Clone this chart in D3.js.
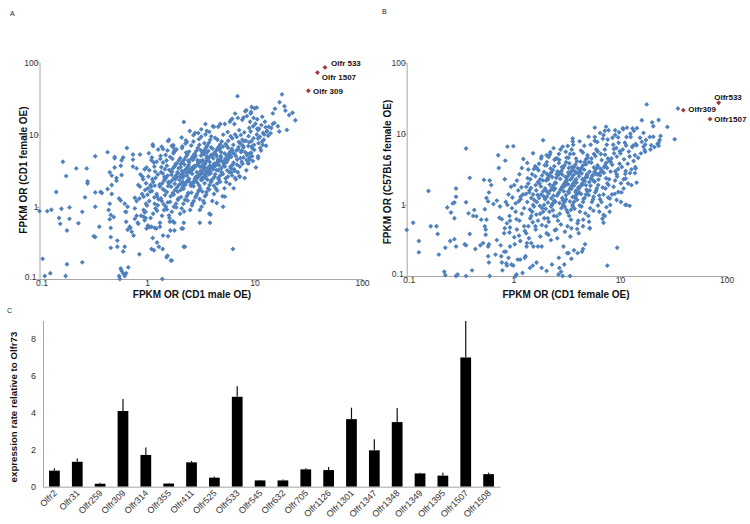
<!DOCTYPE html>
<html><head><meta charset="utf-8">
<script src="https://cdn.jsdelivr.net/npm/d3@7"></script>
<style>body{margin:0;background:#fff}svg{display:block}</style>
</head><body>
<svg id="chart" width="750" height="524"></svg>
<script>
// ---------- DATA ----------
const scatterA = [
[0.1,0.87],[0.118,0.87],[0.129,0.91],[0.143,1.6],[0.152,0.7],[0.156,0.58],[0.16,0.94],[0.165,4.2],[0.177,2.66],[0.18,0.47],[0.19,0.98],[0.19,0.68],[0.22,3.4],[0.23,0.59],[0.25,0.85],[0.275,3.4],[0.28,2.1],[0.28,2.25],[0.33,5.0],[0.33,1.58],[0.32,0.39],[0.33,0.38],[0.36,0.53],[0.37,1.6],[0.38,1.55],[0.43,1.76],[0.43,5.7],[0.45,3.0],[0.47,2.7],[0.44,0.9],[0.45,0.67],[0.46,0.51],[0.46,0.38],[0.46,0.27],[0.49,0.72],[0.5,4.9],[0.5,3.5],[0.47,2.0],[0.52,2.3],[0.53,0.34],[0.53,0.28],[0.55,0.11],[0.55,1.3],[0.57,1.22],[0.58,2.75],[0.6,4.8],[0.62,0.28],[0.57,0.14],[0.58,0.13],[0.6,0.12],[0.64,0.12],[0.67,0.145],[0.62,0.11],[0.65,6.5],[0.63,0.85],[0.66,1.0],[0.7,0.51],[0.74,5.3],[0.75,0.4],[0.77,1.33],[0.77,0.68],[0.85,0.22],[0.93,0.73],[0.95,0.84],[1.0,1.04],[1.13,7.3],[1.13,0.37],[1.1,0.26],[1.16,0.25],[1.18,0.51],[1.24,0.32],[1.29,0.28],[1.39,0.1],[1.4,0.26],[1.55,0.21],[1.6,0.76],[1.65,0.47],[1.67,0.18],[1.73,0.63],[1.8,0.47],[2.1,0.5],[2.2,0.28],[3.1,0.6],[3.8,0.8],[6.3,0.26],[6.95,34],
[0.107,0.19],[0.112,0.11],[0.126,0.12],[0.18,0.16],[0.175,0.11],[0.25,0.17],[0.56,0.1],
[15.5,22.7],[17.1,28],[18,36],[19,24.6],[19.4,21.4],[21,18.6],[22.6,20],[24,15.8],[20,11.6],[17,11],[14.8,19.6],[15.3,14.5],[14.8,14],[13.6,12.8],[13.1,11.2],[11.8,17.6],[10.6,16.3],[10.5,23.6],[9.4,24],[9.2,19.5],[8.4,21.7],[7.9,17.2],[7,17],[6.5,14],[9.1,15],[6,15.8],[5.3,14],[4.6,12.8],[4.1,13],[3.6,11.2],[3.2,11.8],[3.5,14],[3.0,10.5],[2.2,14.9],[2.7,9.8],[2.35,7.9],[1.76,7.1],[1.6,8.5],[1.37,6.8],[1.8,5.8],
[2.5,11.2],[2.8,10.5],[2.1,9.1],[2.3,8.3],[1.57,8.1],[1.76,6.6],[1.41,6.3],[1.14,6.9],[1.27,6.2],[0.86,5.3],[0.74,4.5],[0.5,4.7],[0.58,4.4],[0.57,3.7],[0.74,3.6],[0.8,3.4],[1.1,4.4],[0.99,3.5],
[0.265,1.35],[0.33,1.0],[0.45,1.1],[0.46,0.77],[0.47,1.5],[0.52,2.5],[0.6,0.24],[0.64,0.62],[0.66,0.48],[0.69,0.53],[0.72,0.45],[0.62,1.1],[0.64,0.85],[0.77,0.95],[0.8,0.75],[0.83,0.58],[0.99,0.5],[1.05,0.52],[1.1,0.53],[0.97,0.7],[0.95,0.65],[1.22,0.5],[1.32,0.53],[1.41,0.4],[1.57,0.39],[1.63,0.62],[1.8,0.6],[2.16,0.5],[2.2,0.6],[2.25,0.28],[1.52,0.2],[1.7,0.18],
[3.85,0.6],[3.9,0.78],[5.1,1.0],[4.45,1.13],[3.4,1.13],[3.1,0.9],[5.3,1.38],[6.6,2.5],[7.3,2.6],[6.1,3.0],
[3.8,10.9],[3.5,10],[3.2,9.3],[4.2,12.8],[4.8,14],[5.9,15],[6.6,19.5],[6.2,16.5],[7.7,16],[8.5,18],[9.3,20.5],[10,23],[8.2,21],[9.8,17],[10.5,10],[11,12],[11.6,13.5],[12.5,15],[12,10.5],[10.8,11.5],[13,11],[14.3,12.3],[16.5,13],[8.6,5.4],[9.5,5.0],[10.8,4.7],[9,4.5],[11.5,6.0],[12.2,8.5],[10.8,8.8],[8.8,4],
[0.82,0.6],[0.88,0.75],[0.93,0.9],[0.98,1.1],[0.85,1.3],[0.9,1.5],[0.96,1.7],[0.83,2.0],[0.92,2.4],[0.87,2.8],[0.95,3.3],[0.8,1.2],[0.97,0.85],[0.86,1.9],[0.91,2.6],
[1.02,0.55],[1.08,0.7],[1.14,0.8],[1.2,0.95],[1.26,1.05],[1.05,1.2],[1.17,1.35],[1.23,1.5],[1.11,1.65],[1.02,1.8],[1.08,2.0],[1.14,2.2],[1.2,2.5],[1.26,2.8],[1.05,3.2],[1.17,3.6],[1.23,4.2],[1.11,4.8],[1.04,5.5],[1.18,1.1],[1.24,1.4],[1.09,1.9],
[1.32,0.6],[1.38,0.75],[1.44,0.9],[1.5,1.0],[1.56,1.15],[1.35,1.3],[1.47,1.45],[1.53,1.6],[1.41,1.75],[1.32,1.9],[1.38,2.1],[1.44,2.3],[1.5,2.5],[1.56,2.7],[1.35,3.0],[1.47,3.3],[1.53,3.7],[1.41,4.1],[1.33,4.6],[1.49,5.2],[1.55,6.0],[1.37,1.2],[1.45,1.7],[1.58,2.2],[1.4,2.9],
[1.62,0.7],[1.7,0.85],[1.78,1.0],[1.86,1.1],[1.94,1.25],[1.66,1.4],[1.74,1.55],[1.82,1.7],[1.9,1.85],[1.98,2.0],[1.62,2.15],[1.7,2.3],[1.78,2.5],[1.86,2.7],[1.94,2.9],[1.66,3.1],[1.74,3.4],[1.82,3.7],[1.9,4.0],[1.98,4.4],[1.64,4.9],[1.76,5.5],[1.88,6.2],[1.7,7.0],[1.96,1.3],[1.68,1.9],[1.84,2.4],[1.92,3.0],[1.8,3.6],[1.6,2.1],
[2.03,0.8],[2.1,0.95],[2.18,1.1],[2.26,1.25],[2.34,1.4],[2.42,1.55],[2.06,1.7],[2.14,1.85],[2.22,2.0],[2.3,2.15],[2.38,2.3],[2.46,2.45],[2.03,2.6],[2.1,2.8],[2.18,3.0],[2.26,3.2],[2.34,3.4],[2.42,3.6],[2.06,3.9],[2.14,4.2],[2.22,4.5],[2.3,4.9],[2.38,5.3],[2.46,5.8],[2.12,6.5],[2.28,7.5],[2.4,1.5],[2.08,2.1],[2.2,2.7],[2.32,3.3],[2.44,3.8],[2.16,2.2],[2.36,2.9],
[2.52,0.9],[2.62,1.05],[2.72,1.2],[2.82,1.35],[2.92,1.5],[3.02,1.65],[3.12,1.8],[2.57,1.95],[2.67,2.1],[2.77,2.25],[2.87,2.4],[2.97,2.55],[3.07,2.7],[3.17,2.85],[2.52,3.0],[2.62,3.2],[2.72,3.4],[2.82,3.6],[2.92,3.8],[3.02,4.0],[3.12,4.3],[2.57,4.6],[2.67,5.0],[2.77,5.4],[2.87,5.9],[2.97,6.5],[3.07,7.2],[2.7,8.0],[2.55,2.0],[2.85,2.6],[3.15,3.1],[2.65,3.5],[2.95,4.4],[3.05,1.7],[2.75,2.3],
[3.22,1.0],[3.34,1.2],[3.46,1.4],[3.58,1.6],[3.7,1.8],[3.82,2.0],[3.94,2.2],[3.28,2.4],[3.4,2.6],[3.52,2.8],[3.64,3.0],[3.76,3.2],[3.88,3.4],[3.22,3.6],[3.34,3.8],[3.46,4.0],[3.58,4.3],[3.7,4.6],[3.82,4.9],[3.94,5.2],[3.28,5.6],[3.4,6.0],[3.52,6.5],[3.64,7.0],[3.76,7.7],[3.88,8.5],[3.25,2.5],[3.55,3.1],[3.85,3.7],[3.31,4.4],[3.61,5.0],[3.91,2.9],[3.43,3.5],
[4.05,1.2],[4.2,1.5],[4.35,1.8],[4.5,2.1],[4.65,2.4],[4.8,2.7],[4.95,3.0],[4.12,3.3],[4.28,3.6],[4.42,3.9],[4.58,4.2],[4.72,4.5],[4.88,4.8],[4.05,5.1],[4.2,5.5],[4.35,5.9],[4.5,6.3],[4.65,6.8],[4.8,7.3],[4.95,8.0],[4.3,9.0],[4.62,3.2],[4.15,3.8],[4.78,4.4],[4.45,5.0],[4.9,5.7],[4.25,2.6],[4.55,4.1],
[5.05,1.4],[5.25,1.8],[5.45,2.2],[5.65,2.6],[5.85,3.0],[6.05,3.4],[6.25,3.8],[5.15,4.2],[5.35,4.6],[5.55,5.0],[5.75,5.4],[5.95,5.8],[6.15,6.3],[5.1,6.8],[5.4,7.4],[5.7,8.2],[6.0,9.5],[5.3,3.6],[5.6,4.4],[5.9,5.2],[6.2,6.0],[5.2,4.0],
[6.4,1.8],[6.7,2.4],[7.0,3.0],[7.3,3.6],[7.6,4.2],[7.9,4.8],[6.5,5.4],[6.8,6.0],[7.1,6.7],[7.4,7.5],[7.7,8.5],[6.6,10],[7.2,11.5],[6.9,4.5],[7.5,5.7],[7.8,7.0],[6.45,3.3],
[8.1,2.5],[8.4,3.2],[8.7,4.0],[9.0,4.8],[9.3,5.6],[9.6,6.4],[9.9,7.2],[8.3,8.2],[8.8,9.5],[9.2,11],[9.7,13],[8.5,5.2],[9.4,6.8],
[10.3,3.5],[10.8,5],[11.3,6.5],[11.8,8],[12.3,10],[10.6,12],[12.8,7],
[1.07,1.63],[1.12,2.41],[1.19,3.07],[1.28,1.27],[1.31,2.04],[1.36,3.52],[1.43,1.08],[1.46,2.61],[1.52,4.37],[1.57,1.93],[1.61,3.24],[1.64,1.17],[1.69,2.77],[1.72,4.62],[1.77,1.48],[1.81,2.08],[1.85,3.93],[1.89,2.56],[1.93,1.62],[1.97,3.41],[2.01,2.34],[2.04,4.71],[2.07,1.36],[2.11,3.13],[2.15,2.51],[2.19,1.78],[2.23,3.84],[2.27,2.02],[2.31,5.62],[2.35,2.68],[2.39,1.22],[2.43,3.07],[2.47,4.13],[2.51,2.19],[2.55,3.32],[2.59,1.57],[2.63,2.86],[2.67,4.48],[2.71,1.92],[2.75,3.67],[2.79,2.47],[2.83,5.11],[2.87,1.41],[2.91,3.02],[2.95,2.14],[2.99,4.07],[3.03,2.77],[3.07,1.96],[3.11,3.58],[3.15,6.08],[3.19,2.34],[3.23,4.22],[3.27,1.63],[3.31,2.93],[3.35,3.29],[3.39,5.37],[3.43,2.11],[3.47,3.91],[3.51,2.63],[3.55,1.47],[3.59,4.74],[3.63,2.38],[3.67,3.46],[3.71,5.91],[3.75,2.82],[3.79,1.73],[3.83,4.16],[3.87,3.07],[3.91,2.27],[3.95,6.63],[4.01,3.53],[4.07,2.41],[4.13,4.68],[4.19,1.96],[4.25,3.97],[4.31,2.83],[4.37,5.34],[4.43,3.22],[4.49,1.68],[4.55,4.43],[4.61,2.51],[4.67,3.76],[4.73,6.12],[4.79,2.22],[4.85,5.06],[4.91,3.41],[4.97,4.27],[5.08,2.84],[5.18,3.73],[5.28,5.46],[5.38,2.47],[5.48,4.12],[5.58,3.17],[5.68,6.54],[5.78,4.71],[5.88,2.06],[5.98,3.58],[6.08,4.93],[6.18,2.72],[6.28,5.64],[6.38,4.06],[6.55,3.14],[6.72,5.03],[6.89,3.83],[7.06,6.24],[7.23,2.66],[7.4,4.74],[7.57,5.96],[7.74,3.94],[7.91,6.62],[8.15,5.71],[8.45,4.44],[8.75,6.92],[9.05,5.48],[9.35,8.07],[9.65,4.31],[9.95,6.14],[1.24,0.88],[1.53,0.92],[1.87,0.98],[2.21,0.86],[2.64,1.12],[3.09,1.28],[0.93,1.38],[0.98,2.12],[1.03,2.63],[1.16,4.11],[1.34,5.07],[1.79,5.93],[2.13,6.82],[2.58,7.06],[3.04,8.63],[3.42,7.58],[3.96,9.43],[4.52,8.46],[5.12,9.96],[5.63,10.8],[6.21,8.84],[6.84,9.27],[7.46,9.88],[8.04,10.7],[8.93,12.3],[10.2,14.1],[11.2,9.3],[12.7,12.6],[13.4,9.6],[14.1,10.4],[10.9,7.6],[11.9,7.2],[9.8,8.9],[8.9,7.8],[7.95,8.1],[7.15,7.9],[6.35,7.2],[5.55,6.9],[4.82,6.6],[4.06,6.4],[3.61,5.7],[3.18,5.1],[2.76,4.8],[2.42,4.35],[2.06,3.56],[1.71,3.05],[1.46,2.46],[1.18,1.96],[1.01,1.47]
];
const highlightA = [
  {name:"Olfr 533", x:45.3, y:85},
  {name:"Olfr 1507", x:38.5, y:72},
  {name:"Olfr 309", x:31.7, y:40.4}
];

const scatterB = [
[0.1,0.445],[0.115,0.56],[0.13,0.31],[0.13,0.215],[0.16,1.57],[0.168,0.5],[0.19,0.5],[0.195,0.39],[0.2,0.2],[0.225,0.115],[0.23,0.103],[0.23,0.25],[0.24,0.92],[0.256,0.31],[0.26,0.78],[0.27,1.05],[0.28,1.08],[0.28,0.65],[0.28,0.33],[0.29,0.26],[0.29,1.3],[0.29,1.7],[0.29,0.1],[0.3,0.105],[0.35,0.28],[0.36,0.27],[0.36,6.2],[0.36,1.09],[0.38,0.76],[0.36,0.1],[0.39,0.39],[0.39,2.4],[0.41,0.12],[0.42,0.7],[0.44,0.24],[0.45,0.69],[0.5,0.62],[0.49,0.27],[0.53,2.25],[0.54,0.87],[0.54,0.5],[0.55,0.45],[0.52,0.29],[0.58,0.26],[0.58,0.19],[0.59,0.155],[0.59,0.28],[0.6,0.1],[0.62,1.9],[0.65,1.03],[0.68,0.2],[0.7,0.32],[0.72,5.0],[0.73,3.3],[0.74,0.66],[0.76,0.27],[0.77,0.19],[0.78,0.155],[0.79,0.12],[0.82,0.22],[0.84,4.2],[0.85,0.22],[0.87,0.14],[0.88,6.6],[0.9,0.18],[0.92,0.41],[0.93,0.26],[1.0,6.7],[1.0,0.14],[1.05,0.1],[1.07,0.105],[1.13,0.37],[1.16,0.17],[1.22,0.11],[1.3,0.19],[1.33,0.26],[1.4,0.34],[1.47,0.29],[1.54,0.26],[1.61,0.5],[1.65,0.155],[1.7,0.26],[1.84,0.26],[1.9,8.1],[1.95,0.65],[2.05,0.4],[2.25,0.32],[2.45,0.44],[2.67,0.18],[2.65,0.105],[2.8,0.115],[2.9,0.1],[2.95,0.26],[3.2,0.21],[3.4,0.1],[3.5,0.175],[3.7,0.23],[4.0,0.21],[4.1,0.4],[4.4,0.22],[4.5,0.24],[4.7,0.28],[5.2,0.47],[6.5,1.2],[7.0,0.72],[7.6,0.14],[9.4,0.25],[9.3,1.17],[11.2,1.0],[12.3,0.97],[10.8,1.7],
[17.8,25.9],[34.9,22.7],[32.5,8.4],[27.8,12.5],[23,15.6],[23,6.8],[23,7.5],[19.6,6.9],[20.5,9.1],[20.5,12.8],[20,14.5],[17,5.9],[17.2,7.1],[16.6,6.6],[16,15.5],[16.6,10.3],[15.4,8.8],[14.3,6.9],[13.8,5.0],[13.2,6.8],[13.1,11.9],[11.6,12.2],[10.7,11.6],[14,3.25],[13.9,3.4],[13.8,2.8],[12.4,2.8],[11.3,2.35],[11.9,2.0],[12.8,1.9],[14.3,2.06],[5.8,12.2],[7.4,12.6],[7.8,11.2],[9,11.2],[7,9.6],[3.6,8.6],[2.9,6.6],[2.5,4.5],
[1.84,4.8],[2.05,5.0],[2.2,5.1],[2.7,4.3],[3.1,5.6],[1.38,3.15],[1.6,3.5],[2.05,3.6],
[0.43,0.85],[0.56,0.62],[0.55,0.38],[0.56,1.25],[0.58,1.12],[0.59,1.5],[0.6,2.2],[0.7,1.15],[0.75,0.95],[0.78,0.63],[0.83,0.47],[0.86,0.15],[0.96,0.145],[1.1,0.17],[1.28,0.18],[1.43,0.13],[1.52,0.14],[1.84,0.13],[2.05,0.118],[2.3,0.145],[2.7,0.13],[3.3,0.21],[3.0,0.145],[3.5,0.47],[4.0,0.55],[4.5,0.5],[5.2,0.47],[7.0,0.56],[7.2,0.7],[8.0,0.8],[10.2,1.1],[11.5,1.0],
[24,9.3],[23.5,8.2],[22.5,7.2],[19,9],[17.5,8.2],[16,7.7],[14.4,12],[13.5,11],[12.5,10],[11.5,9],[10.6,12],[9.8,10.5],[9,9.6],[7.2,11],[6.5,10.3],[5.8,9],[3.6,7.8],[17.2,5.6],[19.3,6.0],[13,6.5],[14,7.2],[21,6.5],
[0.82,0.4],[0.87,0.55],[0.92,0.7],[0.97,0.9],[0.85,1.1],[0.9,1.4],[0.95,1.8],[0.83,2.3],[0.93,0.6],[0.88,1.0],
[1.02,0.35],[1.08,0.45],[1.14,0.6],[1.2,0.75],[1.26,0.9],[1.05,1.05],[1.17,1.2],[1.23,1.4],[1.11,1.6],[1.02,1.9],[1.08,2.2],[1.14,2.7],[1.2,3.3],[1.26,0.5],[1.05,0.8],[1.17,1.3],
[1.32,0.4],[1.38,0.5],[1.44,0.65],[1.5,0.8],[1.56,0.95],[1.35,1.1],[1.47,1.25],[1.53,1.4],[1.41,1.6],[1.32,1.8],[1.38,2.0],[1.44,2.3],[1.5,2.7],[1.56,3.2],[1.35,3.9],[1.47,0.7],[1.53,1.0],[1.41,1.5],
[1.62,0.45],[1.7,0.6],[1.78,0.75],[1.86,0.9],[1.94,1.0],[1.66,1.1],[1.74,1.25],[1.82,1.4],[1.9,1.55],[1.98,1.7],[1.62,1.9],[1.7,2.1],[1.78,2.3],[1.86,2.6],[1.94,2.9],[1.66,3.3],[1.74,3.8],[1.82,4.5],[1.9,0.8],[1.98,1.2],[1.64,1.6],[1.76,2.0],
[2.03,0.5],[2.1,0.65],[2.18,0.8],[2.26,0.95],[2.34,1.05],[2.42,1.15],[2.06,1.3],[2.14,1.45],[2.22,1.6],[2.3,1.75],[2.38,1.9],[2.46,2.05],[2.03,2.2],[2.1,2.4],[2.18,2.6],[2.26,2.85],[2.34,3.1],[2.42,3.5],[2.06,4.0],[2.14,4.7],[2.22,5.5],[2.3,1.0],[2.38,1.35],[2.46,1.7],[2.12,2.3],[2.4,0.7],
[2.52,0.45],[2.62,0.6],[2.72,0.75],[2.82,0.9],[2.92,1.0],[3.02,1.1],[3.12,1.2],[2.57,1.35],[2.67,1.5],[2.77,1.65],[2.87,1.8],[2.97,1.95],[3.07,2.1],[3.17,2.25],[2.52,2.4],[2.62,2.6],[2.72,2.8],[2.82,3.0],[2.92,3.3],[3.02,3.6],[3.12,4.0],[2.57,4.5],[2.67,5.2],[2.77,6.0],[2.87,1.25],[2.97,1.55],[3.07,1.9],[3.17,2.2],[2.55,2.7],[2.85,3.4],[3.15,0.85],
[3.22,0.5],[3.34,0.7],[3.46,0.85],[3.58,1.0],[3.7,1.1],[3.82,1.25],[3.94,1.4],[3.28,1.55],[3.4,1.7],[3.52,1.85],[3.64,2.0],[3.76,2.15],[3.88,2.3],[3.22,2.5],[3.34,2.7],[3.46,2.9],[3.58,3.1],[3.7,3.4],[3.82,3.7],[3.94,4.1],[3.28,4.6],[3.4,5.2],[3.52,6.0],[3.64,7.0],[3.76,1.3],[3.88,1.6],[3.25,1.95],[3.55,2.4],[3.85,2.8],[3.31,3.3],[3.61,0.95],
[4.05,0.6],[4.2,0.8],[4.35,0.95],[4.5,1.1],[4.65,1.25],[4.8,1.4],[4.95,1.55],[4.12,1.7],[4.28,1.85],[4.42,2.0],[4.58,2.2],[4.72,2.4],[4.88,2.6],[4.05,2.8],[4.2,3.0],[4.35,3.3],[4.5,3.6],[4.65,4.0],[4.8,4.4],[4.95,5.0],[4.3,5.8],[4.62,6.8],[4.15,1.5],[4.78,1.9],[4.45,2.3],[4.9,2.7],[4.25,3.2],
[5.05,0.7],[5.25,0.9],[5.45,1.1],[5.65,1.3],[5.85,1.5],[6.05,1.7],[6.25,1.9],[5.15,2.1],[5.35,2.35],[5.55,2.6],[5.75,2.9],[5.95,3.2],[6.15,3.6],[5.1,4.0],[5.4,4.5],[5.7,5.2],[6.0,6.0],[5.3,7.0],[5.8,8.0],[5.2,1.6],[5.6,2.2],[5.9,2.8],[6.2,3.4],
[6.4,0.8],[6.7,1.1],[7.0,1.4],[7.3,1.7],[7.6,2.0],[7.9,2.3],[6.5,2.6],[6.8,3.0],[7.1,3.4],[7.4,3.9],[7.7,4.5],[6.6,5.2],[7.2,6.0],[7.5,7.0],[6.9,8.5],[7.8,1.9],[6.45,2.8],[7.25,3.6],
[8.1,1.0],[8.4,1.4],[8.7,1.8],[9.0,2.2],[9.3,2.7],[9.6,3.2],[9.9,3.8],[8.3,4.5],[8.8,5.3],[9.2,6.3],[9.7,7.5],[8.5,8.8],[9.4,2.5],[8.2,4.0],
[10.3,1.5],[10.8,2.3],[11.3,3.0],[11.8,3.8],[12.3,4.8],[10.6,6.0],[11.1,7.5],[12.6,9.0],[10.1,5.3],
[1.07,0.63],[1.12,1.12],[1.19,1.77],[1.28,0.43],[1.31,1.42],[1.36,2.38],[1.43,0.86],[1.46,1.73],[1.52,0.57],[1.57,1.17],[1.61,2.52],[1.64,0.73],[1.69,1.38],[1.72,3.07],[1.77,0.97],[1.81,1.82],[1.85,0.52],[1.89,2.21],[1.93,1.31],[1.97,3.62],[2.01,0.88],[2.04,1.57],[2.07,2.72],[2.11,1.08],[2.15,0.58],[2.19,1.93],[2.23,3.26],[2.27,1.24],[2.31,2.47],[2.35,0.84],[2.39,1.62],[2.43,4.31],[2.47,1.11],[2.51,2.03],[2.55,0.69],[2.59,2.96],[2.63,1.43],[2.67,3.87],[2.71,1.06],[2.75,2.32],[2.79,0.53],[2.83,1.71],[2.87,2.67],[2.91,1.16],[2.95,3.47],[2.99,1.82],[3.03,0.94],[3.07,2.48],[3.11,1.37],[3.15,4.62],[3.19,1.98],[3.23,0.78],[3.27,2.86],[3.31,1.48],[3.35,3.84],[3.39,1.12],[3.43,2.27],[3.47,0.62],[3.51,1.69],[3.55,3.42],[3.59,1.29],[3.63,2.61],[3.67,5.24],[3.71,1.87],[3.75,0.88],[3.79,2.96],[3.83,1.52],[3.87,4.48],[3.91,2.07],[3.95,1.18],[4.01,3.27],[4.07,1.76],[4.13,2.53],[4.19,0.98],[4.25,4.06],[4.31,1.42],[4.37,2.78],[4.43,1.91],[4.49,5.47],[4.55,1.21],[4.61,3.13],[4.67,2.16],[4.73,0.76],[4.79,3.71],[4.85,1.64],[4.91,2.46],[4.97,4.62],[5.08,1.38],[5.18,2.92],[5.28,1.86],[5.38,3.94],[5.48,2.57],[5.58,1.19],[5.68,3.37],[5.78,2.12],[5.88,4.86],[5.98,1.58],[6.08,2.68],[6.18,5.63],[6.28,2.27],[6.38,1.36],[6.55,3.23],[6.72,4.27],[6.89,1.76],[7.06,2.82],[7.23,5.08],[7.4,2.37],[7.57,3.31],[7.74,1.27],[7.91,4.13],[8.15,2.94],[8.45,3.66],[8.75,6.12],[9.05,2.98],[9.35,4.78],[9.65,1.52],[9.95,5.67],[10.4,3.42],[10.9,4.37],[11.4,6.84],[12.1,5.62],[12.8,3.16],[13.4,4.14],[14.8,4.6],[15.7,5.3],[0.93,0.48],[0.98,1.27],[1.03,0.28],[1.16,0.31],[1.34,0.29],[1.79,0.36],[2.13,0.38],[2.58,0.34],[3.04,0.42],[3.42,0.36],[3.96,0.46],[4.52,0.62],[5.12,0.58],[5.63,0.83],[6.21,0.98],[6.84,0.64],[7.46,0.93],[8.04,1.23],[8.93,1.43],[10.2,2.02],[11.2,2.73],[1.24,4.42],[1.53,5.33],[2.38,6.28],[3.23,6.72],[4.18,7.83],[5.07,9.12],[6.12,7.66],[7.66,8.31],[8.64,7.02],[9.6,8.9]
];
const highlightB = [
  {name:"Olfr533", x:84, y:27.4},
  {name:"Olfr309", x:39.2, y:21.5},
  {name:"Olfr1507", x:69.8, y:16.1}
];

const logTickValues = [0.1, 1, 10, 100];
const logTickLabels = ["0.1", "1", "10", "100"];

const barCategories = ["Olfr2","Olfr31","Olfr259","Olfr309","Olfr314","Olfr355","Olfr411","Olfr525","Olfr533","Olfr545","Olfr632","Olfr705","Olfr1126","Olfr1301","Olfr1347","Olfr1348","Olfr1349","Olfr1395","Olfr1507","Olfr1508"];
const barValues = [0.87,1.35,0.16,4.1,1.72,0.17,1.32,0.49,4.87,0.34,0.34,0.94,0.9,3.66,1.97,3.5,0.72,0.6,7.0,0.68];
const barErrors = [0.13,0.18,0.05,0.65,0.4,0.03,0.07,0.06,0.57,0.02,0.05,0.06,0.17,0.62,0.6,0.76,0.03,0.16,1.97,0.08];
const barTickValues = [0,2,4,6,8];

// ---------- STYLE / LAYOUT ----------
const FONT = "'Liberation Sans', Arial, Helvetica, sans-serif";
const BLUE = "#4F81BD", RED = "#A0393B", AXIS = "#A6A6A6", TXT = "#333";
const labelOffsetsA = {"Olfr 533":[6,-1], "Olfr 1507":[4.4,7.3], "Olfr 309":[4.7,3]};
const labelOffsetsB = {"Olfr533":[-4.4,-2.2], "Olfr309":[5,2.3], "Olfr1507":[4.3,3]};

const svg = d3.select("#chart");
svg.append("rect").attr("width",750).attr("height",524).attr("fill","#fff");

const diamond = d3.symbol().type(d3.symbolSquare).size(12);

function scatterPanel(cfg){
  const x = d3.scaleLog().domain([0.1,100]).range([cfg.left, cfg.right]);
  const y = d3.scaleLog().domain([0.1,100]).range([cfg.bottom, cfg.top]);
  const g = svg.append("g");

  const xa = g.append("g").attr("transform",`translate(0,${cfg.bottom})`)
    .call(d3.axisBottom(x).tickValues(logTickValues).tickFormat((d,i)=>logTickLabels[i]).tickSize(3).tickSizeOuter(0).tickPadding(-2));
  const ya = g.append("g").attr("transform",`translate(${cfg.left},0)`)
    .call(d3.axisLeft(y).tickValues(logTickValues).tickFormat((d,i)=>logTickLabels[i]).tickSize(3).tickSizeOuter(0).tickPadding(-2));
  [xa,ya].forEach(a=>{
    a.select(".domain").attr("stroke",AXIS);
    a.selectAll(".tick line").attr("stroke",AXIS);
    a.selectAll(".tick text").attr("fill",TXT).style("font-family",FONT).style("font-size","8.5px");
  });
  // keep the two corner "0.1" labels apart, as in the reference
  ya.selectAll(".tick text").filter((d)=>d===0.1).attr("dy","0em").attr("dx","-2");
  xa.selectAll(".tick text").filter((d)=>d===0.1).attr("dx","2");

  g.append("g").selectAll("path").data(cfg.points).join("path")
    .attr("d", diamond)
    .attr("transform", d=>`translate(${x(d[0])},${y(d[1])}) rotate(45)`)
    .attr("fill", BLUE);

  const hl = g.append("g");
  hl.selectAll("path").data(cfg.highlights).join("path")
    .attr("d", diamond)
    .attr("transform", d=>`translate(${x(d.x)},${y(d.y)}) rotate(45)`)
    .attr("fill", RED);
  hl.selectAll("text").data(cfg.highlights).join("text")
    .attr("x", d=>x(d.x)+cfg.offsets[d.name][0])
    .attr("y", d=>y(d.y)+cfg.offsets[d.name][1])
    .text(d=>d.name)
    .style("font-family",FONT).style("font-size","8px").style("font-weight","bold").attr("fill","#111");

  g.append("text").attr("x",cfg.xTitleX).attr("y",cfg.xTitleY).attr("text-anchor","middle")
    .text(cfg.xTitle).style("font-family",FONT).style("font-size","10px").style("font-weight","bold").attr("fill","#111");
  g.append("text").attr("transform",`translate(${cfg.yTitleX},${cfg.yTitleY}) rotate(-90)`).attr("text-anchor","middle")
    .attr("dy","0.35em")
    .text(cfg.yTitle).style("font-family",FONT).style("font-size","10px").style("font-weight","bold").attr("fill","#111");
  g.append("text").attr("x",cfg.letterX).attr("y",cfg.letterY).text(cfg.letter)
    .style("font-family",FONT).style("font-size","7px").attr("fill","#222");
}

scatterPanel({left:39.5, right:362, top:62.3, bottom:279, points:scatterA, highlights:highlightA, offsets:labelOffsetsA,
  xTitle:"FPKM OR (CD1 male OE)", xTitleX:192, xTitleY:297.5,
  yTitle:"FPKM OR (CD1 female OE)", yTitleX:23, yTitleY:170,
  letter:"A", letterX:10, letterY:16});
scatterPanel({left:406.7, right:726.7, top:62.7, bottom:276, points:scatterB, highlights:highlightB, offsets:labelOffsetsB,
  xTitle:"FPKM OR (CD1 female OE)", xTitleX:566, xTitleY:298,
  yTitle:"FPKM OR (C57BL6 female OE)", yTitleX:387, yTitleY:172,
  letter:"B", letterX:382, letterY:14});

// ---------- BAR PANEL C ----------
(function(){
  const left = 43, right = 500, bottom = 486.7;
  const x = d3.scaleBand().domain(barCategories).range([left,right]).paddingInner(0.53).paddingOuter(0.265);
  const y = d3.scaleLinear().domain([0,9]).range([bottom, bottom - 9*18.46]);
  const g = svg.append("g");

  const ya = g.append("g").attr("transform",`translate(${left},0)`)
    .call(d3.axisLeft(y).tickValues(barTickValues).tickSize(0).tickPadding(7).tickSizeOuter(0));
  ya.select(".domain").attr("stroke",AXIS);
  ya.selectAll(".tick text").attr("fill",TXT).style("font-family",FONT).style("font-size","9px");

  g.selectAll("rect.bar").data(barCategories).join("rect").attr("class","bar")
    .attr("x", d=>x(d)).attr("width", x.bandwidth())
    .attr("y", (d,i)=>y(barValues[i])).attr("height",(d,i)=>bottom - y(barValues[i]))
    .attr("fill","#000");
  g.selectAll("line.err").data(barCategories).join("line").attr("class","err")
    .attr("x1", d=>x(d)+x.bandwidth()/2).attr("x2", d=>x(d)+x.bandwidth()/2)
    .attr("y1", (d,i)=>y(barValues[i])).attr("y2",(d,i)=>y(barValues[i]+barErrors[i]))
    .attr("stroke","#111").attr("stroke-width",1.2);

  const xa = g.append("g").attr("transform",`translate(0,${bottom})`)
    .call(d3.axisBottom(x).tickSize(0).tickSizeOuter(0));
  xa.select(".domain").attr("stroke",AXIS);
  xa.selectAll(".tick text").attr("fill",TXT).style("font-family",FONT).style("font-size","9px")
    .attr("text-anchor","end").attr("dy",0).attr("y",0)
    .attr("transform","translate(3,7) rotate(-45)");

  g.append("text").attr("transform",`translate(14,407) rotate(-90)`).attr("text-anchor","middle").attr("dy","0.35em")
    .text("expression rate relative to Olfr73").style("font-family",FONT).style("font-size","9.7px").style("font-weight","bold").attr("fill","#111");
  g.append("text").attr("x",7).attr("y",313).text("C").style("font-family",FONT).style("font-size","7px").attr("fill","#222");
})();
</script>
</body></html>
